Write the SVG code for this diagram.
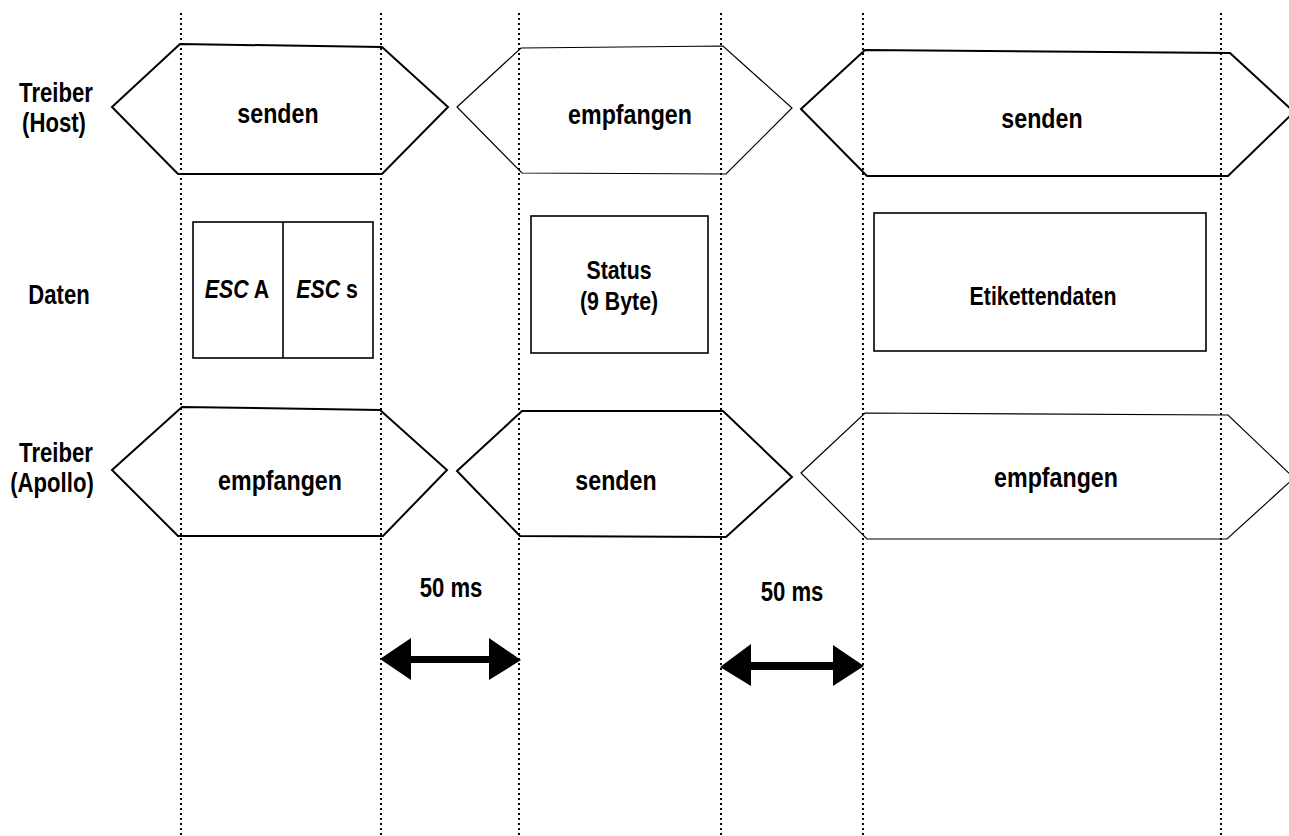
<svg xmlns="http://www.w3.org/2000/svg" width="1289" height="836" viewBox="0 0 1289 836">
<style>
.t{font-family:"Liberation Sans",Arial,sans-serif;font-size:27px;font-weight:bold;fill:#000;text-anchor:middle}
.d{font-family:"Liberation Sans",Arial,sans-serif;font-size:26px;font-weight:bold;fill:#000;text-anchor:middle}
.grid{stroke:#000;stroke-width:2;stroke-dasharray:2 3;fill:none}
.hx{fill:none;stroke:#000;stroke-width:2;stroke-linejoin:miter}
.hxt{fill:none;stroke:#000;stroke-width:1.2}
.bx{fill:none;stroke:#000;stroke-width:1.6}
</style>
<rect width="1289" height="836" fill="#fff"/>
<g id="grid">
<line class="grid" x1="181" y1="13" x2="181" y2="836"/>
<line class="grid" x1="381" y1="13" x2="381" y2="836"/>
<line class="grid" x1="519" y1="13" x2="519" y2="836"/>
<line class="grid" x1="721" y1="13" x2="721" y2="836"/>
<line class="grid" x1="863" y1="13" x2="863" y2="836"/>
<line class="grid" x1="1221" y1="13" x2="1221" y2="836"/>
</g>
<g id="labels">
<text class="t" transform="translate(56,102) scale(0.82,1)">Treiber</text>
<text class="t" transform="translate(54,132) scale(0.82,1)">(Host)</text>
<text class="t" transform="translate(59,304) scale(0.82,1)">Daten</text>
<text class="t" transform="translate(56,462) scale(0.82,1)">Treiber</text>
<text class="t" transform="translate(52,492) scale(0.82,1)">(Apollo)</text>
</g>
<g id="host1">
<polygon class="hx" points="112,107 180,44 382,47 448,107 382,174 178,174"/>
<text class="t" transform="translate(278,123) scale(0.86,1)">senden</text>
</g>
<g id="host2">
<polygon class="hxt" points="457,107 521,48 723,46 792,108 726,174 522,173"/>
<text class="t" transform="translate(630,124) scale(0.86,1)">empfangen</text>
</g>
<g id="host3">
<polygon class="hx" points="801,109 865,50 1230,53 1294,112 1228,176 867,176"/>
<text class="t" transform="translate(1042,128) scale(0.86,1)">senden</text>
</g>
<g id="data1">
<rect class="bx" x="193" y="222" width="180" height="136"/>
<line class="bx" x1="283" y1="222" x2="283" y2="358"/>
<text class="d" transform="translate(237,298) scale(0.82,1)"><tspan font-style="italic">ESC</tspan> A</text>
<text class="d" transform="translate(327,298) scale(0.82,1)"><tspan font-style="italic">ESC</tspan> s</text>
</g>
<g id="data2">
<rect class="bx" x="531" y="216" width="177" height="137"/>
<text class="d" transform="translate(619,279) scale(0.82,1)">Status</text>
<text class="d" transform="translate(619,310) scale(0.82,1)">(9 Byte)</text>
</g>
<g id="data3">
<rect class="bx" x="874" y="213" width="332" height="138"/>
<text class="d" transform="translate(1043,305) scale(0.82,1)">Etikettendaten</text>
</g>
<g id="apollo1">
<polygon class="hx" points="112,470 182,407 380,410 447,470 383,536 178,536"/>
<text class="t" transform="translate(280,490) scale(0.86,1)">empfangen</text>
</g>
<g id="apollo2">
<polygon class="hx" points="457,471 522,411 723,411 792,477 726,537 520,536"/>
<text class="t" transform="translate(616,490) scale(0.86,1)">senden</text>
</g>
<g id="apollo3">
<polygon class="hxt" points="801,473 865,413 1228,415 1294,478 1227,539 867,539"/>
<text class="t" transform="translate(1056,487) scale(0.86,1)">empfangen</text>
</g>
<g id="timing">
<text class="t" transform="translate(451,597) scale(0.82,1)">50 ms</text>
<text class="t" transform="translate(792,601) scale(0.82,1)">50 ms</text>
</g>
<g id="connectors" fill="#000">
<polygon points="380,659 411,638 411,656 489,656 489,638 521,660 489,680 489,663 411,663 411,680"/>
<polygon points="720,667 751,644 751,662 833,662 833,645 864,666 833,686 833,670 751,670 751,686"/>
</g>
</svg>
